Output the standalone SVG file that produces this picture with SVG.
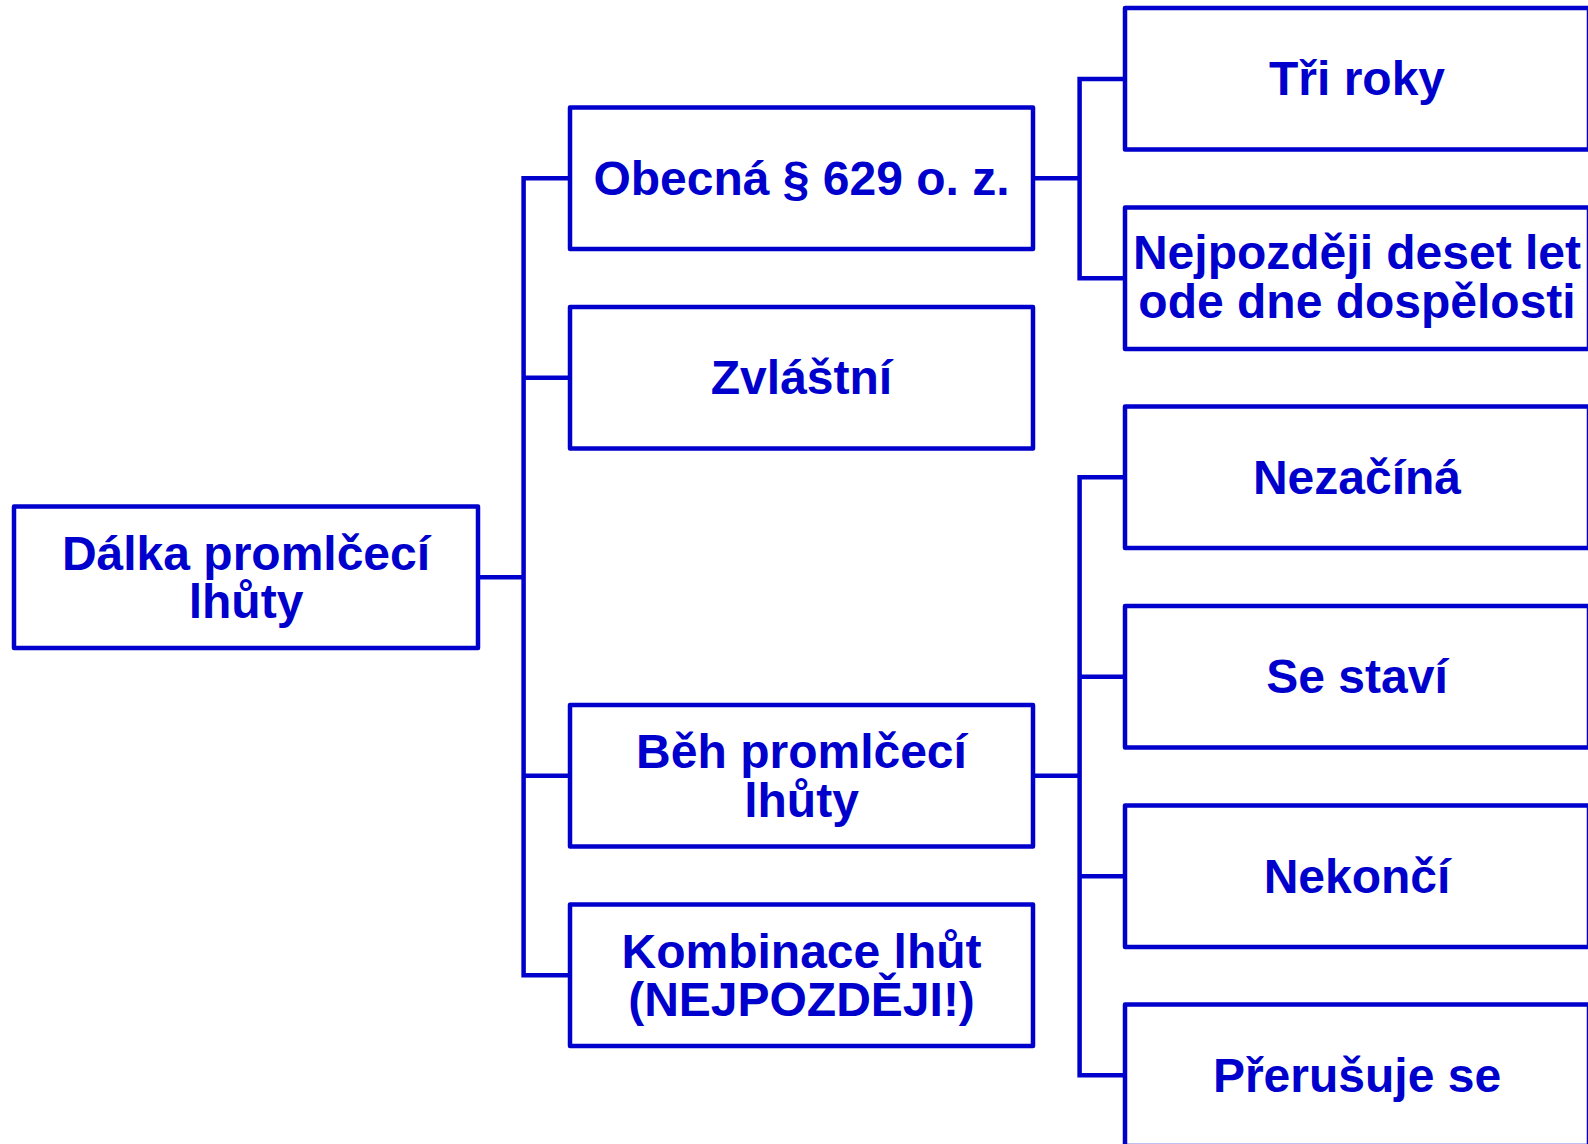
<svg xmlns="http://www.w3.org/2000/svg" width="1588" height="1144" viewBox="0 0 1588 1144">
<style>
.box{fill:#fff;stroke:#0000CC;stroke-width:4.5;stroke-linejoin:round}
.lbl{font-family:"Liberation Sans",Arial,sans-serif;font-weight:bold;font-size:48px;fill:#0000CC;text-anchor:middle}
.con{fill:none;stroke:#0000CC;stroke-width:4.5;stroke-linejoin:round;stroke-linecap:square}
</style>
<rect width="1588" height="1144" fill="#fff"/>
<g id="connectors">
<path class="con" d="M478 577.3H523.6M523.6 178.3V975.3M523.6 178.3H570M523.6 377.8H570M523.6 775.8H570M523.6 975.3H570"/>
<path class="con" d="M1033 178.3H1079.6M1079.6 79V278.3M1079.6 79H1125M1079.6 278.3H1125"/>
<path class="con" d="M1033 775.8H1079.6M1079.6 477.3V1075.3M1079.6 477.3H1125M1079.6 676.8H1125M1079.6 876.3H1125M1079.6 1075.3H1125"/>
</g>
<g id="root">
<rect class="box" x="14" y="506.5" width="464" height="141.5"/>
<text class="lbl" x="246" y="569.5">Dálka promlčecí</text>
<text class="lbl" x="246" y="618">lhůty</text>
</g>
<g id="obecna">
<rect class="box" x="570" y="107.5" width="463" height="141.5"/>
<text class="lbl" x="801.5" y="194.5">Obecná § 629 o. z.</text>
</g>
<g id="zvlastni">
<rect class="box" x="570" y="307" width="463" height="141.5"/>
<text class="lbl" x="801.5" y="394">Zvláštní</text>
</g>
<g id="beh">
<rect class="box" x="570" y="705" width="463" height="141.5"/>
<text class="lbl" x="801.5" y="768">Běh promlčecí</text>
<text class="lbl" x="801.5" y="816.5">lhůty</text>
</g>
<g id="kombinace">
<rect class="box" x="570" y="904.5" width="463" height="141.5"/>
<text class="lbl" x="801.5" y="967.5">Kombinace lhůt</text>
<text class="lbl" x="801.5" y="1016">(NEJPOZDĚJI!)</text>
</g>
<g id="tri-roky">
<rect class="box" x="1125" y="8" width="464" height="141.5"/>
<text class="lbl" x="1357" y="95.2">Tři roky</text>
</g>
<g id="nejpozdeji">
<rect class="box" x="1125" y="207.5" width="464" height="141.5"/>
<text class="lbl" x="1357" y="268.5">Nejpozději deset let</text>
<text class="lbl" x="1357" y="318">ode dne dospělosti</text>
</g>
<g id="nezacina">
<rect class="box" x="1125" y="406.5" width="464" height="141.5"/>
<text class="lbl" x="1357" y="493.5">Nezačíná</text>
</g>
<g id="se-stavi">
<rect class="box" x="1125" y="606" width="464" height="141.5"/>
<text class="lbl" x="1357" y="693">Se staví</text>
</g>
<g id="nekonci">
<rect class="box" x="1125" y="805.5" width="464" height="141.5"/>
<text class="lbl" x="1357" y="892.5">Nekončí</text>
</g>
<g id="prerusuje">
<rect class="box" x="1125" y="1004.5" width="464" height="141.5"/>
<text class="lbl" x="1357" y="1091.5">Přerušuje se</text>
</g>
</svg>
